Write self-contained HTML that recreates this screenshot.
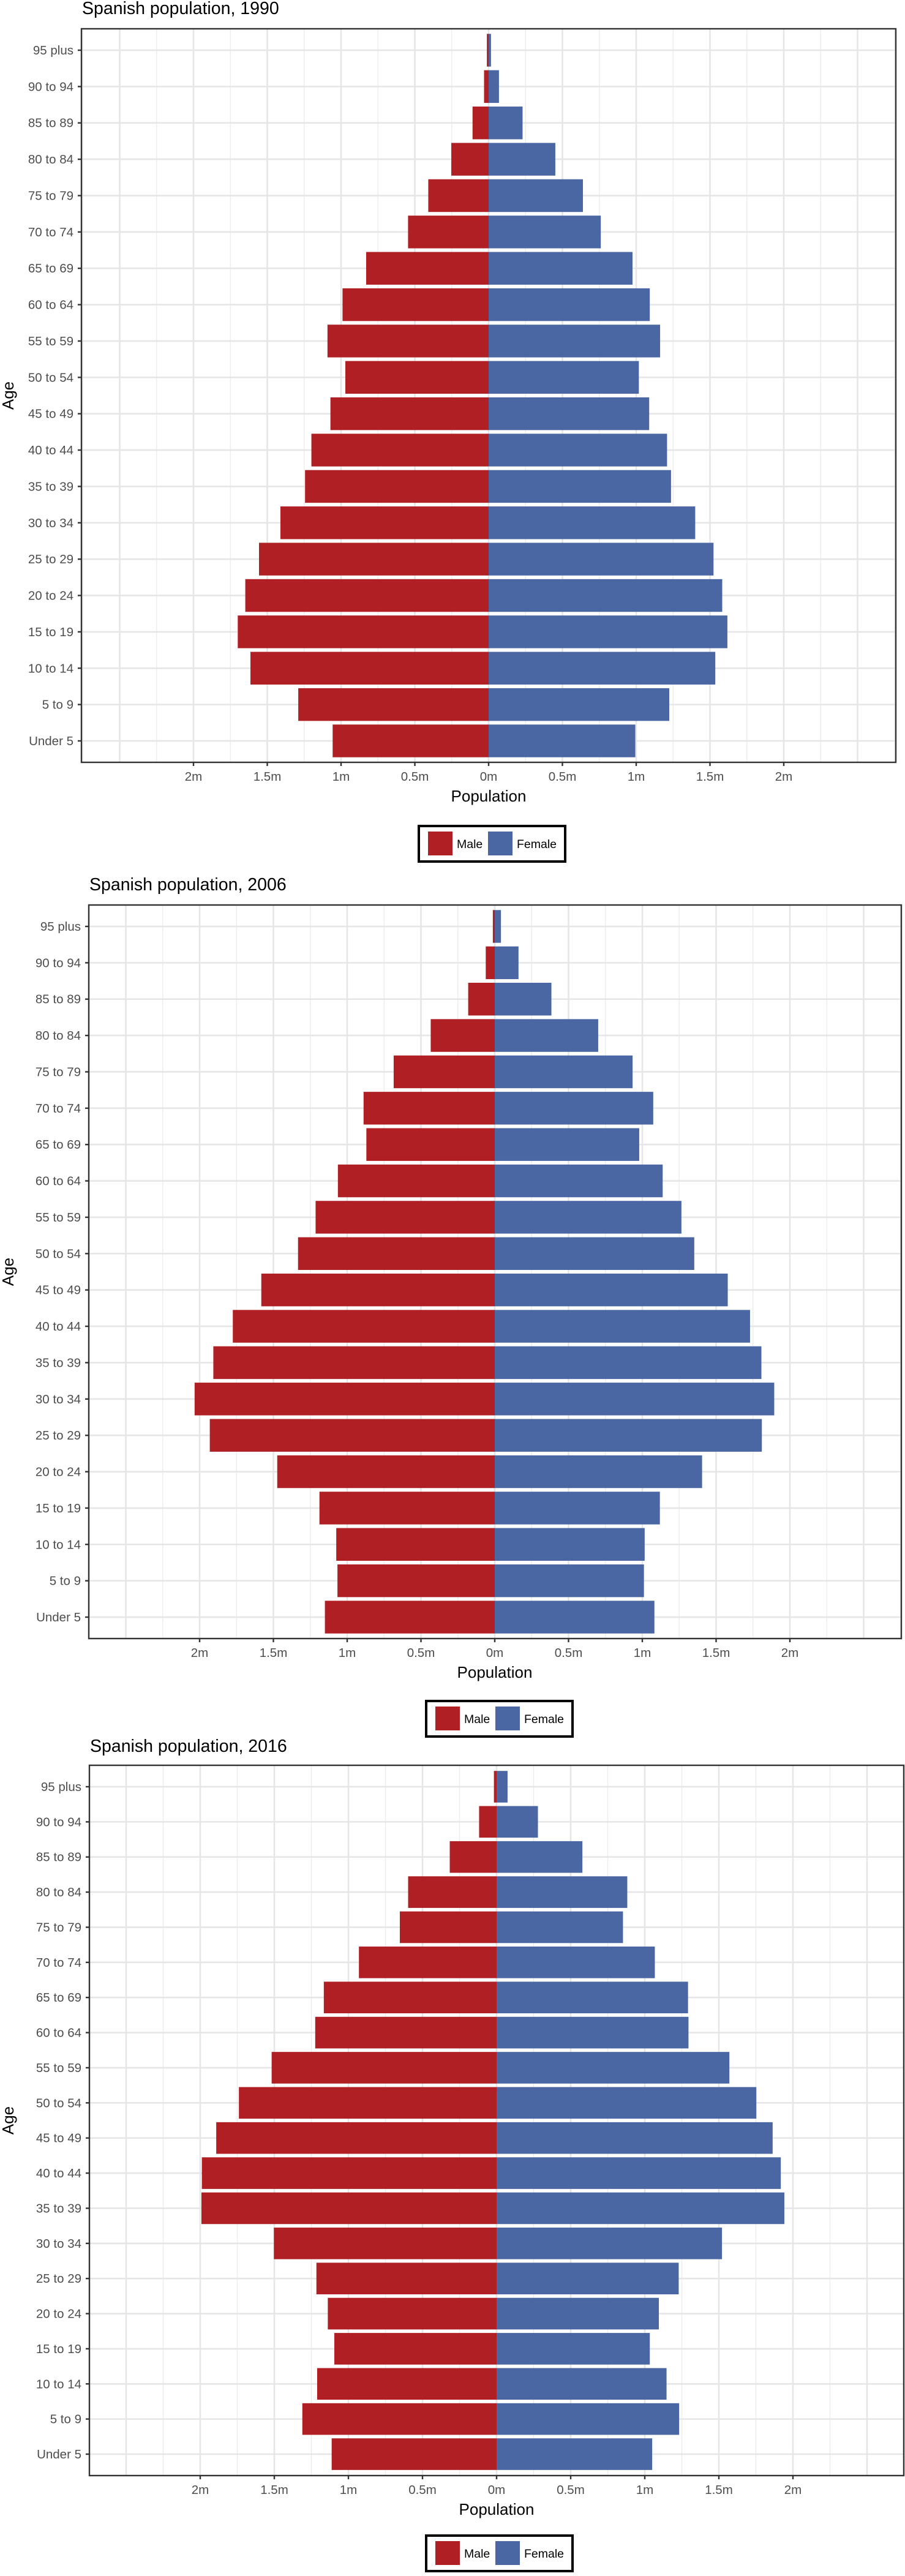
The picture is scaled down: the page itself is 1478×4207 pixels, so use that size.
<!DOCTYPE html>
<html><head><meta charset="utf-8">
<style>
html,body{margin:0;padding:0;background:#fff;}
svg{display:block;font-family:"Liberation Sans",Arial,sans-serif;}
</style></head>
<body>
<svg id="root" width="1478" height="4207" viewBox="0 0 1478 4207" xmlns="http://www.w3.org/2000/svg"></svg>
<script>
const ageGroups = ["95 plus","90 to 94","85 to 89","80 to 84","75 to 79","70 to 74","65 to 69","60 to 64","55 to 59","50 to 54","45 to 49","40 to 44","35 to 39","30 to 34","25 to 29","20 to 24","15 to 19","10 to 14","5 to 9","Under 5"];
const years = ["1990","2006","2016"];
const male1990 = [0.012,0.031,0.109,0.253,0.409,0.546,0.830,0.990,1.092,0.971,1.072,1.201,1.244,1.411,1.556,1.649,1.700,1.614,1.290,1.057];
const female1990 = [0.016,0.070,0.230,0.452,0.639,0.760,0.975,1.092,1.162,1.018,1.088,1.209,1.236,1.400,1.524,1.583,1.618,1.536,1.224,0.994];
const male2006 = [0.013,0.061,0.180,0.434,0.685,0.889,0.870,1.063,1.214,1.333,1.582,1.775,1.907,2.034,1.931,1.474,1.188,1.074,1.066,1.151];
const female2006 = [0.042,0.161,0.384,0.701,0.934,1.074,0.979,1.138,1.265,1.352,1.579,1.730,1.807,1.894,1.810,1.405,1.119,1.016,1.011,1.082];
const male2016 = [0.018,0.118,0.316,0.597,0.653,0.929,1.166,1.224,1.518,1.739,1.892,1.989,1.992,1.503,1.216,1.139,1.095,1.211,1.311,1.113];
const female2016 = [0.074,0.279,0.579,0.882,0.853,1.068,1.292,1.295,1.571,1.753,1.863,1.918,1.942,1.521,1.229,1.095,1.034,1.147,1.232,1.050];
const tickValues = [-2,-1.5,-1,-0.5,0,0.5,1,1.5,2];
const tickLabels = ["2m","1.5m","1m","0.5m","0m","0.5m","1m","1.5m","2m"];
const minorValues = [-2.75,-2.25,-1.75,-1.25,-0.75,-0.25,0.25,0.75,1.25,1.75,2.25,2.75];
const majorExtra = [-2.5,2.5];

const maleSeries=[male1990,male2006,male2016];
const femaleSeries=[female1990,female2006,female2016];
const layouts=[
 {zero:798,ppm:241,top:47,bottom:1245,left:133,right:1463,titleY:23,legX:682,legY:1347},
 {zero:808,ppm:241,top:1478,bottom:2676,left:145,right:1472,titleY:1454,legX:694,legY:2776},
 {zero:811,ppm:242,top:2883,bottom:4043,left:146,right:1476,titleY:2861,legX:694,legY:4139}
];
const NS="http://www.w3.org/2000/svg";
const root=document.getElementById('root');
function mk(tag,attrs,parent,text){const e=document.createElementNS(NS,tag);for(const k in attrs)e.setAttribute(k,attrs[k]);if(text!==undefined)e.textContent=text;parent.appendChild(e);return e;}

layouts.forEach((L,ci)=>{
  const g=mk('g',{},root);
  
  
  const xs=v=>L.zero+v*L.ppm;
  const n=ageGroups.length;
  const pad=35;
  const step=(L.bottom-L.top-2*pad)/(n-1);
  const ys=i=>L.top+pad+i*step;
  // grid
  const grid=mk('g',{},g);
  
  
  minorValues.forEach(v=>{const x=xs(v);if(x>L.left&&x<L.right)mk('line',{x1:x,x2:x,y1:L.top,y2:L.bottom,stroke:'#ebebeb','stroke-width':1.3},grid);});
  tickValues.concat(majorExtra).forEach(v=>{const x=xs(v);if(x>L.left&&x<L.right)mk('line',{x1:x,x2:x,y1:L.top,y2:L.bottom,stroke:'#e6e6e6','stroke-width':2.6},grid);});
  ageGroups.forEach((a,i)=>mk('line',{x1:L.left,x2:L.right,y1:ys(i),y2:ys(i),stroke:'#e6e6e6','stroke-width':2.6},grid));
  // bars
  const bh=step*0.9;
  ageGroups.forEach((a,i)=>{
    const m=maleSeries[ci][i], f=femaleSeries[ci][i];
    const rm=mk('rect',{x:xs(-m),y:ys(i)-bh/2,width:xs(0)-xs(-m),height:bh,fill:'#b01f24'},g);
    
    
    const rf=mk('rect',{x:xs(0),y:ys(i)-bh/2,width:xs(f)-xs(0),height:bh,fill:'#4a67a4'},g);
    
    
  });
  // panel border
  const pb=mk('rect',{x:L.left,y:L.top,width:L.right-L.left,height:L.bottom-L.top,fill:'none',stroke:'#333','stroke-width':2.4},g);
  
  
  // y ticks
  ageGroups.forEach((a,i)=>{
    mk('line',{x1:L.left-6,x2:L.left,y1:ys(i),y2:ys(i),stroke:'#333','stroke-width':2.4},g);
    const t=mk('text',{x:L.left-13,y:ys(i)+7,'text-anchor':'end','font-size':20.5,fill:'#4d4d4d'},g,a);
    
    
  });
  // x ticks
  tickValues.forEach((v,i)=>{
    const x=xs(v);
    mk('line',{x1:x,x2:x,y1:L.bottom,y2:L.bottom+6,stroke:'#333','stroke-width':2.4},g);
    const t=mk('text',{x:x,y:L.bottom+30,'text-anchor':'middle','font-size':20.5,fill:'#4d4d4d'},g,tickLabels[i]);
    
    
  });
  const xt=mk('text',{x:L.zero,y:L.bottom+64,'text-anchor':'middle','font-size':26,fill:'#000'},g,'Population');
  
  
  const cy=(L.top+L.bottom)/2;
  const yt=mk('text',{x:0,y:0,'text-anchor':'middle','font-size':26,fill:'#000',transform:'translate(22,'+cy+') rotate(-90)'},g,'Age');
  
  
  const tt=mk('text',{x:L.left+1,y:L.titleY,'font-size':28.5,fill:'#000'},g,'Spanish population, '+years[ci]);
  
  
  // legend
  const lg=mk('g',{},g);
  
  
  mk('rect',{x:L.legX+2,y:L.legY+2,width:239,height:58,fill:'#fff',stroke:'#000','stroke-width':4},lg);
  const k1=mk('rect',{x:L.legX+17,y:L.legY+11,width:40,height:39,fill:'#b01f24'},lg);
  
  
  mk('text',{x:L.legX+64,y:L.legY+38,'font-size':19.5,fill:'#000'},lg,'Male');
  const k2=mk('rect',{x:L.legX+115,y:L.legY+11,width:40,height:39,fill:'#4a67a4'},lg);
  
  
  mk('text',{x:L.legX+162,y:L.legY+38,'font-size':19.5,fill:'#000'},lg,'Female');
});
</script>
</body></html>
